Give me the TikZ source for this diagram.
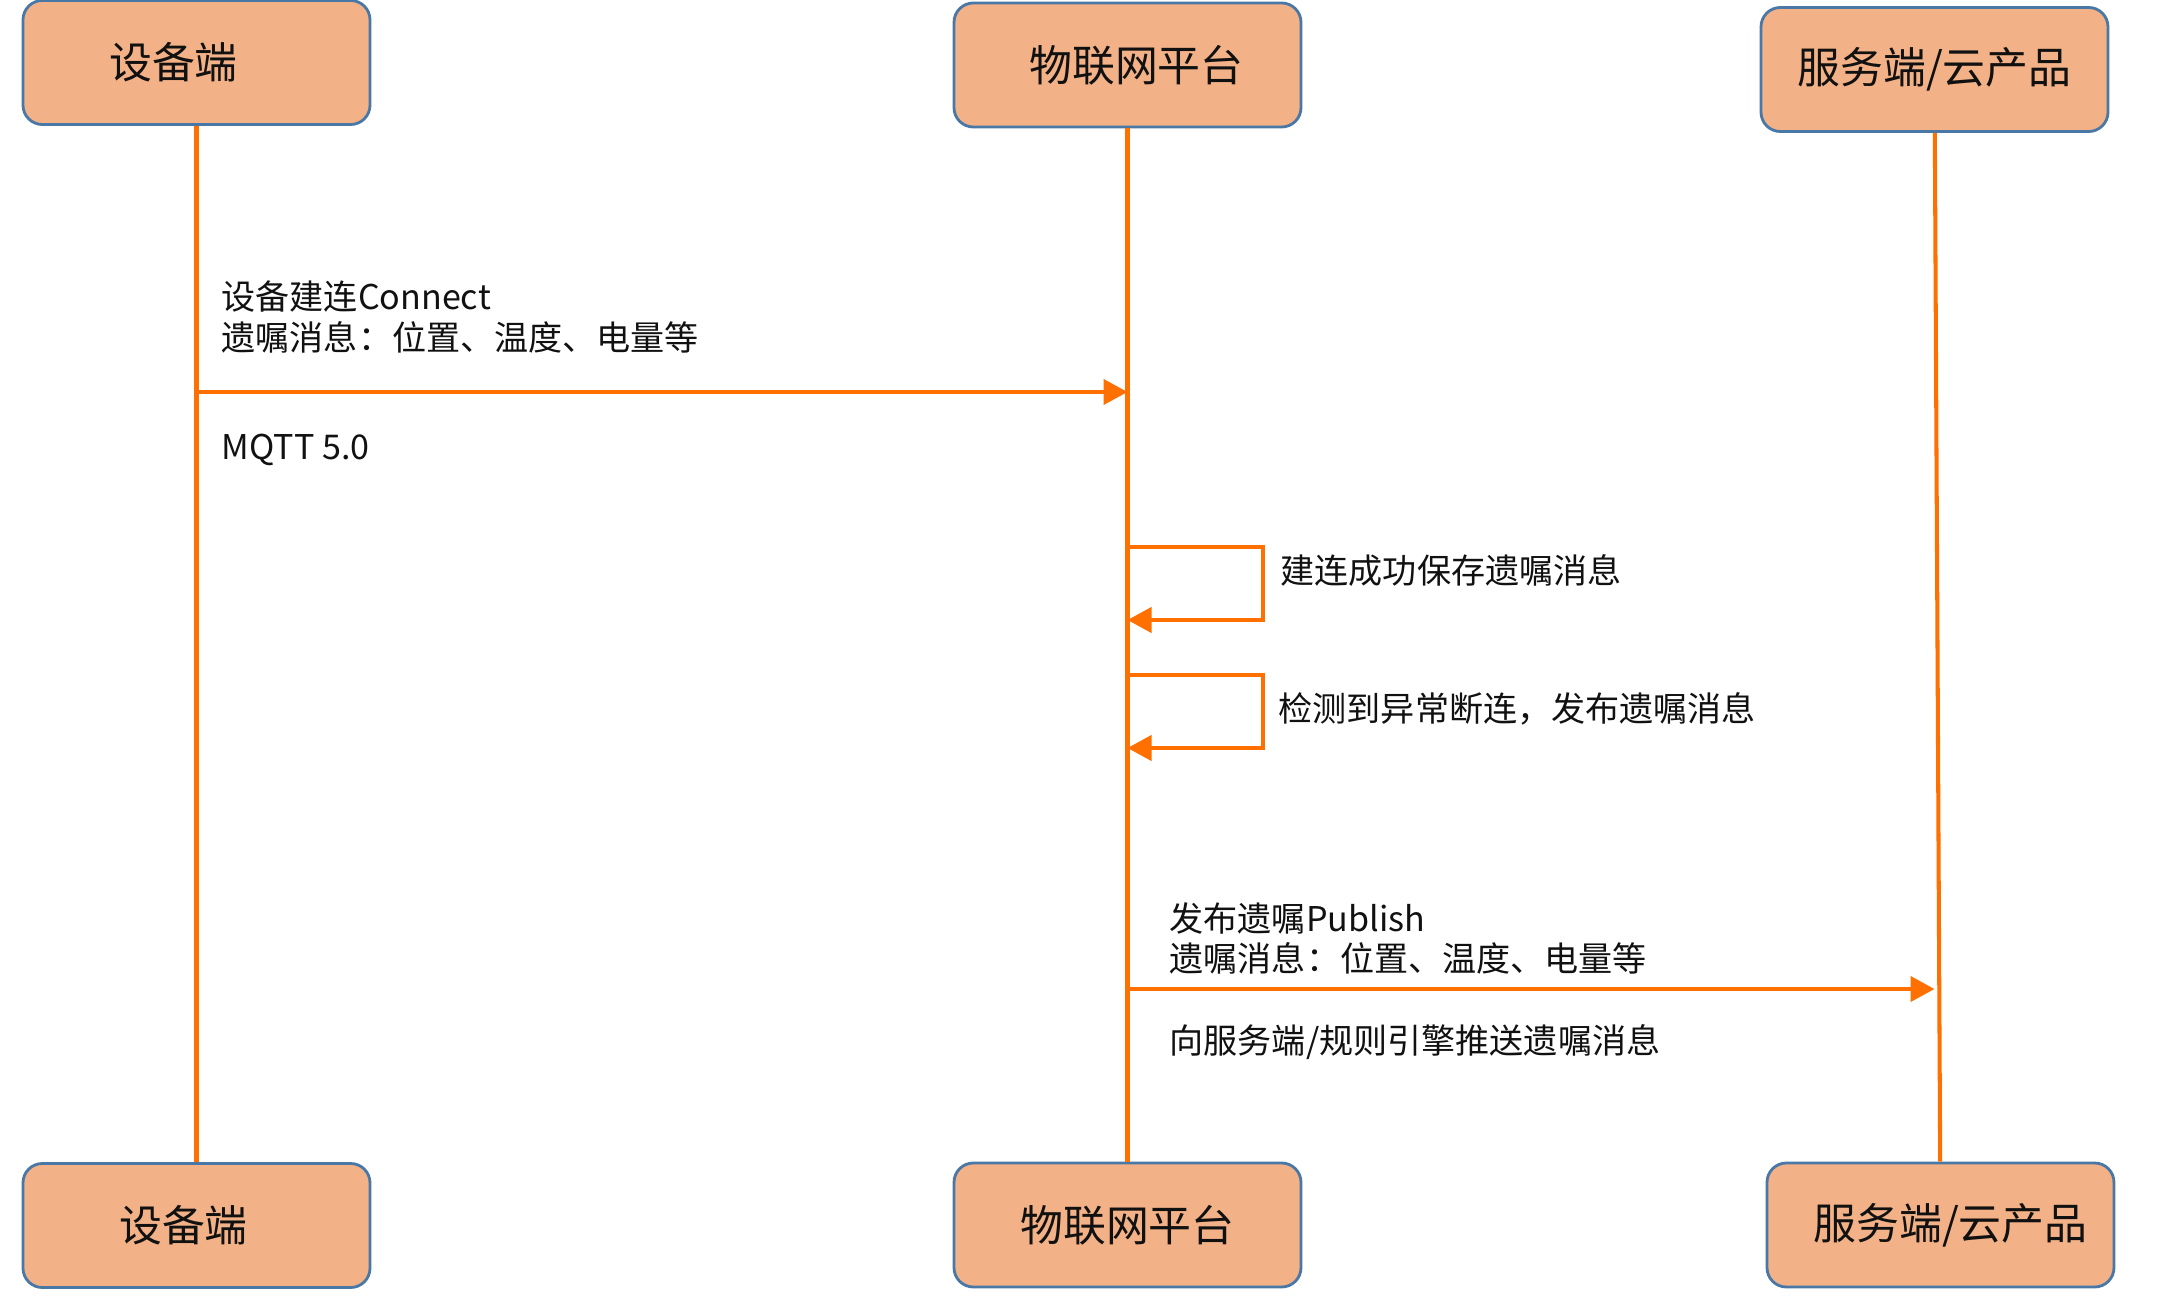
\documentclass[tikz,border=0pt]{standalone}
\usepackage{fontspec}
\setmainfont{Noto Sans CJK SC}
\usetikzlibrary{positioning, calc, arrows.meta}

\definecolor{boxfill}{HTML}{F2B186}
\definecolor{boxline}{HTML}{4A78A6}
\definecolor{lineorange}{HTML}{FF7000}
\definecolor{txt}{HTML}{111111}

\begin{document}
\begin{tikzpicture}[
  party/.style = {draw=boxline, line width=0.8pt, rounded corners=5.5pt, fill=boxfill,
                  minimum width=3.47cm, minimum height=1.24cm, inner sep=0pt,
                  align=center, text=txt, font=\fontsize{12.2}{14}\selectfont},
  life/.style  = {draw=lineorange, line width=1.15pt},
  msg/.style   = {draw=lineorange, line width=1.15pt,
                  -{Triangle[length=0.24cm, width=0.25cm]}},
  lbl/.style   = {anchor=west, inner sep=0pt, align=left, text=txt,
                  font=\fontsize{9.7}{11.4}\selectfont},
]
\useasboundingbox (0,0) rectangle (21.64,-12.96);

% ---- the three parties, top and bottom ---------------------------------------
\node[party] (dTop) at ( 1.965,-0.625) {\hspace*{-0.46cm}\raisebox{-0.12cm}{设备端}};
\node[party] (pTop) at (11.275,-0.650) {\hspace*{0.18cm}物联网平台};
\node[party] (sTop) at (19.345,-0.695) {服务端/云产品};

\node[party] (dBot) at ( 1.965,-12.255) {\hspace*{-0.26cm}设备端};
\node[party] (pBot) at (11.275,-12.250) {物联网平台};
\node[party] (sBot) at (19.405,-12.250) {\hspace*{0.2cm}服务端/云产品};

% ---- lifelines ---------------------------------------------------------------
\draw[life] (dTop) -- (dBot);
\draw[life] (pTop) -- (pBot);
\draw[life] (sTop) -- (sBot);

% ---- message rows ------------------------------------------------------------
\coordinate (m1)  at (0,-3.92);
\coordinate (l1a) at (12.63,-5.47);
\coordinate (l1b) at (12.63,-6.20);
\coordinate (l2a) at (12.63,-6.75);
\coordinate (l2b) at (12.63,-7.48);
\coordinate (m3)  at (0,-9.89);

% ---- device -> platform: connect ---------------------------------------------
\draw[msg] (dTop.south |- m1) -- (pTop.south |- m1);
\node[lbl] (c1) at (2.21,-3.17) {设备建连Connect\\遗嘱消息：位置、温度、电量等};
\node[lbl] (c2) at (2.21,-4.50) {MQTT 5.0};

% ---- platform self calls -----------------------------------------------------
\draw[msg] (pTop.south |- l1a) -- (l1a) -- (l1b) -- (pTop.south |- l1b);
\node[lbl] (s1) at (12.80,-5.70) {建连成功保存遗嘱消息};

\draw[msg] (pTop.south |- l2a) -- (l2a) -- (l2b) -- (pTop.south |- l2b);
\node[lbl] (s2) at (12.78,-7.09) {检测到异常断连，发布遗嘱消息};

% ---- platform -> server: publish ---------------------------------------------
\draw[msg] (pTop.south |- m3) -- (sTop.south |- m3);
\node[lbl] (p1) at (11.69,-9.385) {发布遗嘱Publish\\遗嘱消息：位置、温度、电量等};
\node[lbl] (p2) at (11.69,-10.42) {向服务端/规则引擎推送遗嘱消息};

\end{tikzpicture}
\end{document}
